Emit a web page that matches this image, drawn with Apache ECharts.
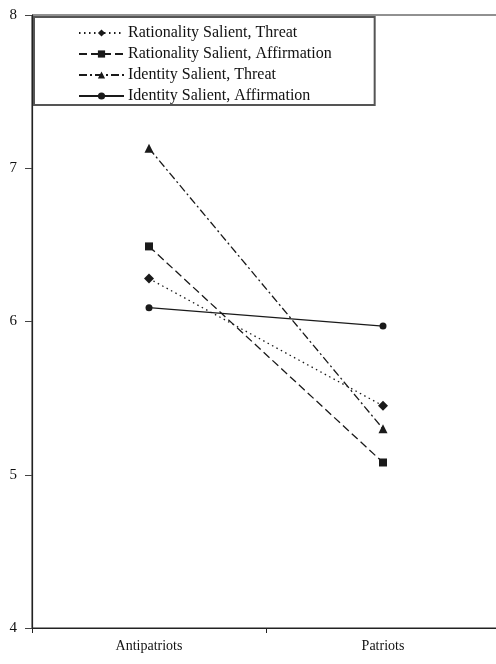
<!DOCTYPE html>
<html>
<head>
<meta charset="utf-8">
<script src="https://cdn.jsdelivr.net/npm/echarts@6/dist/echarts.min.js"></script>
<style>html,body{margin:0;padding:0;background:#fff;overflow:hidden}#c{width:500px;height:664px}</style>
</head>
<body>
<div id="c"></div>
<script>
const categories = ['Antipatriots', 'Patriots'];
const seriesNames = ['Rationality Salient, Threat', 'Rationality Salient, Affirmation', 'Identity Salient, Threat', 'Identity Salient, Affirmation'];
const ratThreat = [6.28, 5.45];
const ratAffirm = [6.49, 5.08];
const idThreat = [7.13, 5.30];
const idAffirm = [6.09, 5.97];
const yTicks = [4, 5, 6, 7, 8];

const font = 'Liberation Serif, Times New Roman, serif';
const ink = '#1a1a1a';
function mk(name, data, symbol, size, dash) {
  return {
    name, type: 'line', data, symbol, symbolSize: size,
    lineStyle: { color: ink, width: 1.3, type: dash },
    itemStyle: { color: ink },
    emphasis: { disabled: true },
    animation: false
  };
}
const chart = echarts.init(document.getElementById('c'));
chart.setOption({
  animation: false,
  grid: { left: 32, top: 15, right: 0, bottom: 36, show: true, borderColor: '#222', borderWidth: 1 },
  legend: {
    orient: 'vertical', left: 34, top: 17,
    padding: [8, 43, 1, 44],
    itemWidth: 45, itemHeight: 9, itemGap: 5,
    borderColor: '#555', borderWidth: 2,
    textStyle: { fontFamily: font, fontSize: 16, color: '#111', padding: [0, 0, 0, -1] },
    data: seriesNames
  },
  xAxis: {
    type: 'category', data: categories, boundaryGap: true,
    axisLine: { lineStyle: { color: '#222', width: 1.2 } },
    axisTick: { show: true, length: 5, lineStyle: { color: '#222' } },
    axisLabel: { fontFamily: font, fontSize: 14, color: '#111', margin: 11 }
  },
  yAxis: {
    type: 'value', min: yTicks[0], max: yTicks[yTicks.length - 1], interval: 1,
    axisLine: { show: true, lineStyle: { color: '#222', width: 1.2 } },
    axisTick: { show: true, length: 7, lineStyle: { color: '#444' } },
    splitLine: { show: false },
    axisLabel: { fontFamily: font, fontSize: 15, color: '#111', margin: 15, padding: [3, 0, 0, 0] }
  },
  series: [
    mk(seriesNames[0], ratThreat, 'diamond', 10, [1.5, 3.5]),
    mk(seriesNames[1], ratAffirm, 'rect', 8, [8, 4]),
    mk(seriesNames[2], idThreat, 'triangle', 9, [8, 3, 2, 3]),
    mk(seriesNames[3], idAffirm, 'circle', 7, 'solid')
  ]
});
</script>
</body>
</html>
